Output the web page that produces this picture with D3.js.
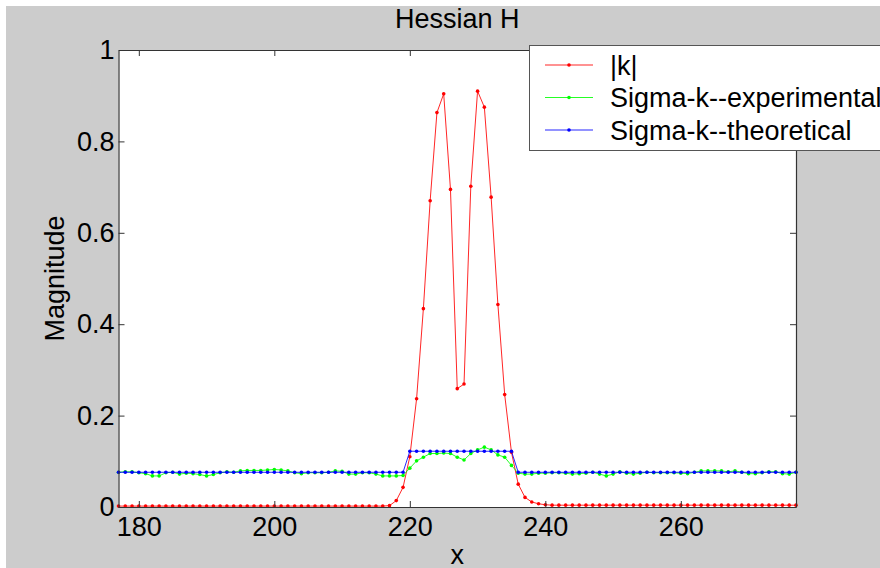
<!DOCTYPE html>
<html>
<head>
<meta charset="utf-8">
<script src="https://cdn.jsdelivr.net/npm/d3@7"></script>
<style>
  html, body { margin: 0; padding: 0; background: #ffffff; }
  svg { display: block; }
  text { font-family: "Liberation Sans", Arial, sans-serif; fill: #000; }
</style>
</head>
<body>
<svg id="chart" width="880" height="568"></svg>
<script>
// Sample positions along x
const xs = d3.range(177, 278);

// |k| magnitude, one value per x
const kAbs = [
  0.002, 0.002, 0.002, 0.002, 0.002, 0.002, 0.002, 0.002, 0.002, 0.002, // 177-186
  0.002, 0.002, 0.002, 0.002, 0.002, 0.002, 0.002, 0.002, 0.002, 0.002, // 187-196
  0.002, 0.002, 0.002, 0.002, 0.002, 0.002, 0.002, 0.002, 0.002, 0.002, // 197-206
  0.002, 0.002, 0.002, 0.002, 0.002, 0.002, 0.002, 0.002, 0.002, 0.002, // 207-216
  0.003, 0.014, 0.043, 0.110, 0.237, 0.434, 0.670, 0.863, 0.904, 0.695, // 217-226
  0.259, 0.269, 0.702, 0.910, 0.875, 0.678, 0.443, 0.246, 0.120, 0.050, // 227-236
  0.021, 0.011, 0.007, 0.005, 0.004, 0.004, 0.004, 0.004, 0.004, 0.004, // 237-246
  0.004, 0.004, 0.004, 0.004, 0.004, 0.004, 0.004, 0.004, 0.004, 0.004, // 247-256
  0.004, 0.004, 0.004, 0.004, 0.004, 0.004, 0.004, 0.004, 0.004, 0.004, // 257-266
  0.004, 0.004, 0.004, 0.004, 0.004, 0.004, 0.004, 0.004, 0.004, 0.004, // 267-276
  0.004                                                                  // 277
];

// Sigma-k, experimental estimate
const sigmaExp = [
  0.076, 0.077, 0.077, 0.075, 0.073, 0.068, 0.068, 0.075, 0.076, 0.072, // 177-186
  0.074, 0.073, 0.071, 0.068, 0.071, 0.075, 0.077, 0.076, 0.079, 0.080, // 187-196
  0.080, 0.080, 0.081, 0.082, 0.081, 0.079, 0.075, 0.073, 0.075, 0.075, // 197-206
  0.075, 0.076, 0.079, 0.078, 0.072, 0.072, 0.075, 0.075, 0.072, 0.068, // 207-216
  0.068, 0.068, 0.069, 0.085, 0.101, 0.109, 0.117, 0.117, 0.118, 0.117, // 217-226
  0.109, 0.103, 0.117, 0.125, 0.131, 0.125, 0.114, 0.109, 0.091, 0.074, // 227-236
  0.072, 0.072, 0.074, 0.074, 0.075, 0.075, 0.074, 0.072, 0.073, 0.074, // 237-246
  0.076, 0.072, 0.068, 0.072, 0.077, 0.074, 0.072, 0.074, 0.076, 0.075, // 247-256
  0.075, 0.075, 0.075, 0.074, 0.073, 0.076, 0.079, 0.079, 0.079, 0.079, // 257-266
  0.077, 0.079, 0.076, 0.073, 0.073, 0.075, 0.077, 0.077, 0.073, 0.072, // 267-276
  0.076                                                                  // 277
];

// Sigma-k, theoretical value: low outside the band, high inside it
const sigmaTheoryLow = 0.076;
const sigmaTheoryHigh = 0.122;
const bandStart = 220;
const bandEnd = 235;
const sigmaTheory = xs.map(x => (x >= bandStart && x <= bandEnd) ? sigmaTheoryHigh : sigmaTheoryLow);

const xTicks = [180, 200, 220, 240, 260];
const yTicks = [0, 0.2, 0.4, 0.6, 0.8, 1];

const seriesNames = ["|k|", "Sigma-k--experimental", "Sigma-k--theoretical"];
const seriesColors = ["#ff0000", "#00ff00", "#0000ff"];
const seriesValues = [kAbs, sigmaExp, sigmaTheory];

const svg = d3.select("#chart");
const W = 880, H = 568;
const plot = { left: 118.5, right: 796, top: 50, bottom: 507 };
const FONT = 27;

// Figure background
svg.append("rect").attr("x", 6).attr("y", 6).attr("width", W - 6).attr("height", H - 6)
  .attr("fill", "#cccccc");

const x = d3.scaleLinear().domain([177, 277]).range([plot.left, plot.right]);
const y = d3.scaleLinear().domain([0, 1]).range([plot.bottom, plot.top]);

// Axes area
svg.append("rect")
  .attr("x", plot.left).attr("y", plot.top)
  .attr("width", plot.right - plot.left).attr("height", plot.bottom - plot.top)
  .attr("fill", "#ffffff");

// Data lines with dot markers
const line = d3.line().x((d, i) => x(xs[i])).y(d => y(d));
seriesValues.forEach((vals, s) => {
  const g = svg.append("g");
  g.append("path")
    .datum(vals)
    .attr("d", line)
    .attr("fill", "none")
    .attr("stroke", seriesColors[s])
    .attr("stroke-width", 1)
    .attr("opacity", 0.85);
  g.selectAll("circle")
    .data(vals)
    .join("circle")
    .attr("cx", (d, i) => x(xs[i]))
    .attr("cy", d => y(d))
    .attr("r", 1.8)
    .attr("fill", seriesColors[s]);
});

// Axes: ticks point inward, mirrored on top and right
const fmtY = d => d === 0 ? "0" : d === 1 ? "1" : d3.format(".1f")(d);
const axB = svg.append("g").attr("transform", `translate(0,${plot.bottom})`)
  .call(d3.axisBottom(x).tickValues(xTicks).tickSize(-6).tickSizeOuter(0).tickPadding(11));
const axL = svg.append("g").attr("transform", `translate(${plot.left},0)`)
  .call(d3.axisLeft(y).tickValues(yTicks).tickFormat(fmtY).tickSize(-6).tickSizeOuter(0).tickPadding(6));
const axT = svg.append("g").attr("transform", `translate(0,${plot.top})`)
  .call(d3.axisTop(x).tickValues(xTicks).tickSize(-6).tickSizeOuter(0).tickFormat(""));
const axR = svg.append("g").attr("transform", `translate(${plot.right},0)`)
  .call(d3.axisRight(y).tickValues(yTicks).tickSize(-6).tickSizeOuter(0).tickFormat(""));

[axB, axL, axT, axR].forEach(a => {
  a.select(".domain").attr("stroke", "#333").attr("stroke-width", 1.2);
  a.selectAll(".tick line").attr("stroke", "#333");
  a.selectAll(".tick text")
    .attr("font-family", "Liberation Sans, Arial, sans-serif")
    .attr("font-size", FONT)
    .attr("fill", "#000");
});
axB.selectAll(".tick text").attr("dy", "0.71em").attr("y", 10);
axL.selectAll(".tick text").attr("x", -4);

// Title and axis labels
svg.append("text").attr("x", (plot.left + plot.right) / 2).attr("y", 28)
  .attr("text-anchor", "middle").attr("font-size", FONT).text("Hessian H");
svg.append("text").attr("x", (plot.left + plot.right) / 2).attr("y", 564)
  .attr("text-anchor", "middle").attr("font-size", FONT).text("x");
svg.append("text")
  .attr("transform", `translate(64,${(plot.top + plot.bottom) / 2}) rotate(-90)`)
  .attr("text-anchor", "middle").attr("font-size", FONT).text("Magnitude");

// Legend
const leg = svg.append("g");
leg.append("rect")
  .attr("x", 529.5).attr("y", 45.5).attr("width", 400).attr("height", 105)
  .attr("fill", "#ffffff").attr("stroke", "#555").attr("stroke-width", 1);
seriesNames.forEach((name, i) => {
  const ly = 65 + i * 32.5;
  leg.append("line").attr("x1", 545).attr("x2", 593).attr("y1", ly).attr("y2", ly)
    .attr("stroke", seriesColors[i]).attr("stroke-width", 1).attr("opacity", 0.85);
  leg.append("circle").attr("cx", 569).attr("cy", ly).attr("r", 1.8).attr("fill", seriesColors[i]);
  leg.append("text").attr("x", 610).attr("y", ly + 9.5).attr("font-size", FONT).text(name);
});
</script>
</body>
</html>
